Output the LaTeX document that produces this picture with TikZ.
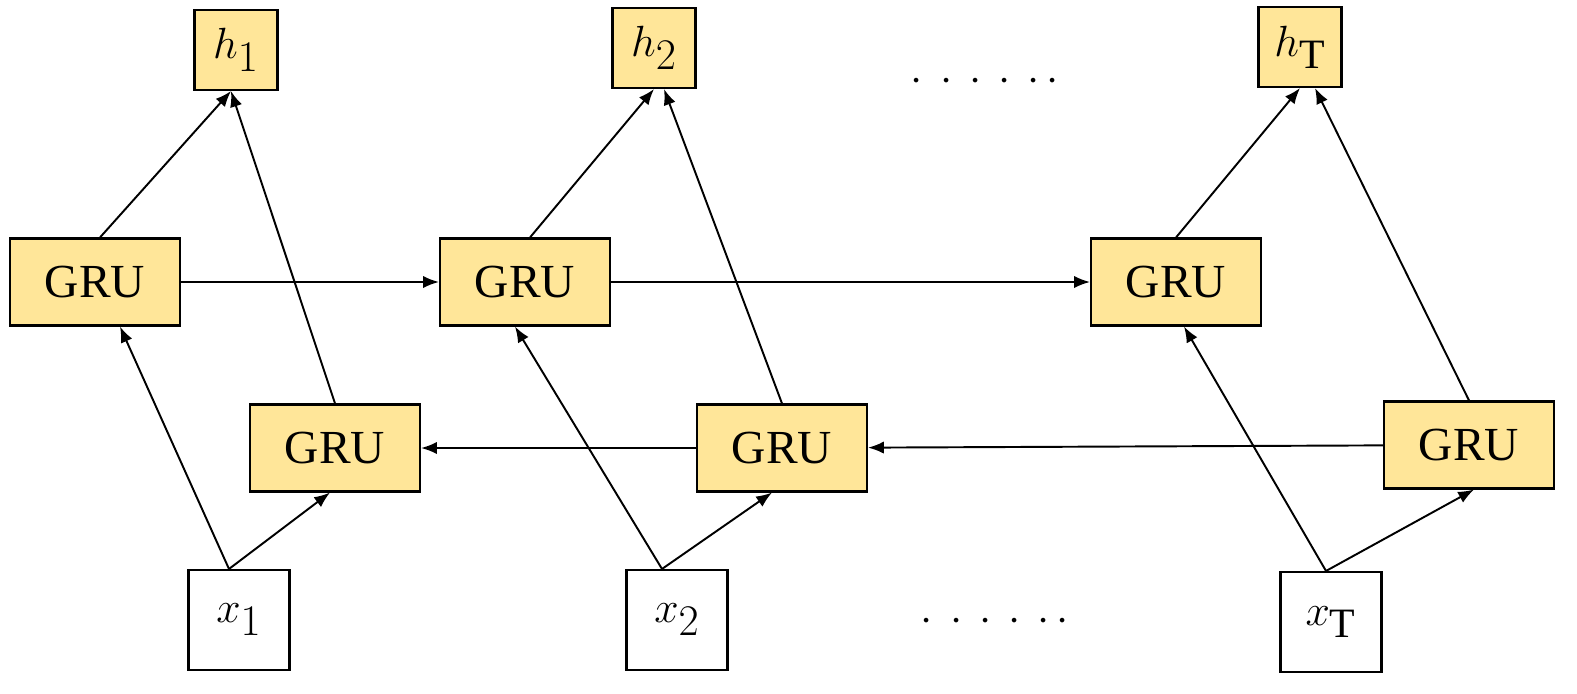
\documentclass[tikz,border=0pt]{standalone}
\usepackage{fontspec}
\setmainfont{Liberation Serif}
\usetikzlibrary{calc,arrows.meta}
\definecolor{gruf}{HTML}{FFE699}
\begin{document}
\begin{tikzpicture}[x=0.02cm,y=-0.02cm,
  box/.style={draw,line width=1.2pt,fill=gruf,minimum width=3.4cm,minimum height=1.74cm,font=\fontsize{27}{29}\selectfont},
  hb/.style={draw,line width=1.2pt,fill=gruf,minimum width=1.66cm,minimum height=1.6cm,font=\fontsize{34}{36}\selectfont},
  xb/.style={draw,line width=1.2pt,fill=white,minimum width=2.02cm,minimum height=2cm,font=\fontsize{34}{36}\selectfont},
  ar/.style={-{Latex[length=9pt,width=7pt]},line width=1.1pt}]
\useasboundingbox (0,0) rectangle (1577,693);
\node[hb] (h1) at (236,50) {$h_1$};
\node[hb] (h2) at (654,48) {$h_2$};
\node[hb] (hT) at (1300,47) {$h_{\mathrm{T}}$};
\node[box] (f1) at (95,282) {GRU};
\node[box] (f2) at (525,282) {GRU};
\node[box] (f3) at (1176,282) {GRU};
\node[box] (b1) at (335,448) {GRU};
\node[box] (b2) at (782,448) {GRU};
\node[box] (b3) at (1469,445) {GRU};
\node[xb] (x1) at (239,620) {$x_1$};
\node[xb] (x2) at (677,620) {$x_2$};
\node[xb] (xT) at (1331,622) {$x_{\mathrm{T}}$};
\node[font=\fontsize{40}{40}\selectfont] (d1) at (985,82) {$\cdot\,\cdot\,\cdot\,\cdot\,\cdot\,\cdot$};
\node[font=\fontsize{40}{40}\selectfont] (d2) at (995,622) {$\cdot\,\cdot\,\cdot\,\cdot\,\cdot\,\cdot$};
\draw[ar] (f1) -- (f2);
\draw[ar] (f2) -- (f3);
\draw[ar] (b3) -- (b2);
\draw[ar] (b2) -- (b1);
\draw[ar] ($(x1.north)+(-10,0)$) -- ($(f1.south)+(25,0)$);
\draw[ar] ($(x1.north)+(-10,0)$) -- ($(b1.south)+(-5,0)$);
\draw[ar] ($(x2.north)+(-15,0)$) -- ($(f2.south)+(-10,0)$);
\draw[ar] ($(x2.north)+(-15,0)$) -- ($(b2.south)+(-10,0)$);
\draw[ar] ($(xT.north)+(-5,0)$) -- ($(f3.south)+(8,0)$);
\draw[ar] ($(xT.north)+(-5,0)$) -- ($(b3.south)+(5,0)$);
\draw[ar] ($(f1.north)+(5,0)$) -- ($(h1.south)+(-5,0)$);
\draw[ar] (b1.north) -- ($(h1.south)+(-5,0)$);
\draw[ar] ($(f2.north)+(5,0)$) -- (h2.south);
\draw[ar] (b2.north) -- ($(h2.south)+(10,0)$);
\draw[ar] (f3.north) -- (hT.south);
\draw[ar] (b3.north) -- ($(hT.south)+(15,0)$);
\end{tikzpicture}
\end{document}
